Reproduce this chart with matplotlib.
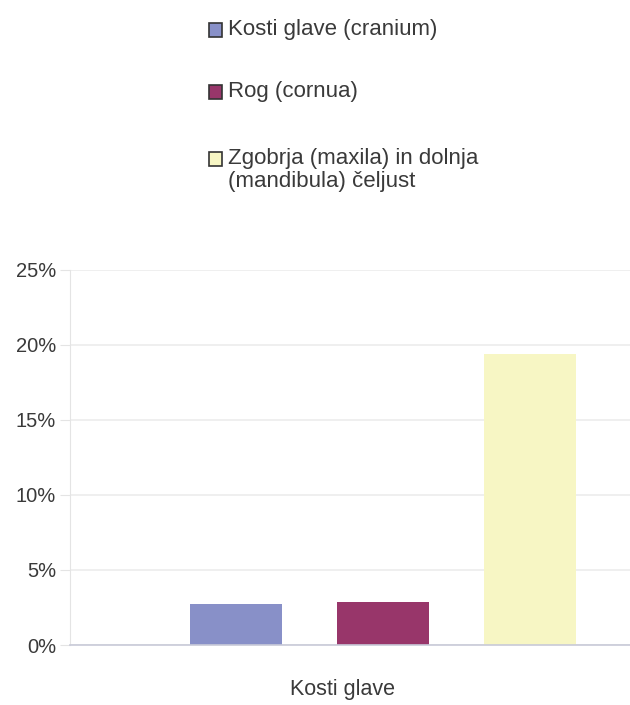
import matplotlib
matplotlib.use('Agg')
import matplotlib.pyplot as plt
from matplotlib.patches import Rectangle
from matplotlib.ticker import PercentFormatter

plt.rcParams['font.family'] = ['Liberation Sans', 'DejaVu Sans']

category = 'Kosti glave'
series = ['Kosti glave (cranium)', 'Rog (cornua)',
          'Zgobrja (maxila) in dolnja\n(mandibula) čeljust']
values = [2.7, 2.85, 19.4]
colors = ['#8890c8', '#98366a', '#f7f6c4']
yticks = [0, 5, 10, 15, 20, 25]

fig = plt.figure(figsize=(6.3, 7.05), dpi=100)
ax = fig.add_axes([0.111, 0.0851, 0.889, 0.532])

pos = [-1, 0, 1]
ax.bar(pos, values, width=0.626, color=colors, zorder=2)

ax.set_xlim(-2.133, 1.677)
ax.set_ylim(0, 25)
ax.set_yticks(yticks)
ax.yaxis.set_major_formatter(PercentFormatter(decimals=0))
ax.grid(axis='y', color='#ececec', linewidth=1.2, zorder=0)
ax.set_xticks([])
ax.tick_params(axis='y', length=7, color='#e4e4e4', labelsize=14.5,
               labelcolor='#3a3a3a', pad=3)
for s in ['top', 'right']:
    ax.spines[s].set_visible(False)
ax.spines['left'].set_color('#e4e4e4')
ax.spines['bottom'].set_color('#c8cad8')
ax.spines['bottom'].set_linewidth(1.2)

fig.text(343 / 630, 1 - 690 / 705, category, ha='center', va='center',
         fontsize=15.5, color='#3a3a3a')

# legend drawn by hand so the square sits on the first text line
rows_y = [30, 92, 159]
for lab, col, y in zip(series, colors, rows_y):
    fig.add_artist(Rectangle((209 / 630, 1 - (y + 6.5) / 705), 13 / 630, 13 / 705,
                             transform=fig.transFigure, facecolor=col,
                             edgecolor='#333333', linewidth=1.2))
    fig.text(228 / 630, 1 - (y - 11) / 705, lab, ha='left', va='top',
             fontsize=16, color='#3a3a3a', linespacing=1.1)

fig.savefig('out.png', dpi=100)
